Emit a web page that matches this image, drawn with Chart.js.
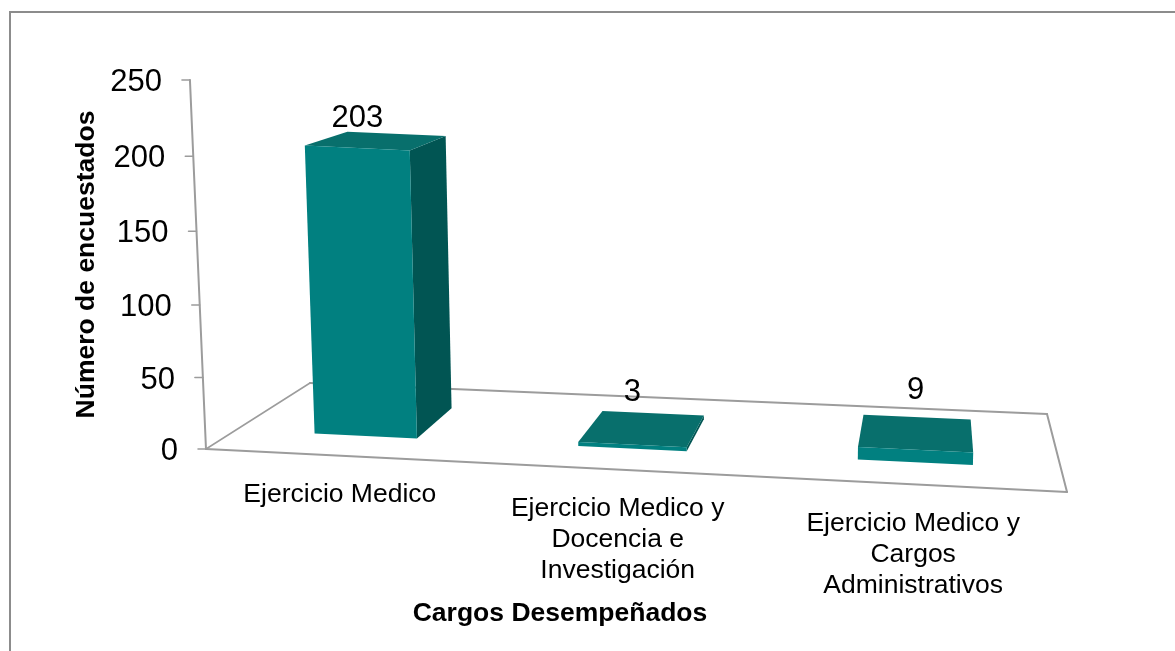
<!DOCTYPE html>
<html>
<head>
<meta charset="utf-8">
<title>Cargos Desempeñados</title>
<style>
  html, body { margin: 0; padding: 0; background: #fff; overflow: hidden; }
  #wrap { position: relative; width: 1175px; height: 651px; }
  #frame { position: absolute; left: 9px; top: 11px; right: 0; bottom: 0; border-left: 2px solid #8c8c8c; border-top: 2px solid #8c8c8c; }
  canvas { position: absolute; left: 0; top: 0; }
</style>
<script src="https://cdn.jsdelivr.net/npm/chart.js@4/dist/chart.umd.min.js"></script>
</head>
<body>
<div id="wrap"><div id="frame"></div><canvas id="chart" width="1175" height="651"></canvas></div>
<script>
const categories = [
  'Ejercicio Medico',
  ['Ejercicio Medico y', 'Docencia e', 'Investigación'],
  ['Ejercicio Medico y', 'Cargos', 'Administrativos'],
];
const seriesValues = [203, 3, 9];
const tickStep = 50;
const tickMax = 250;

const FONT = '"Liberation Sans", Arial, sans-serif';
const FRONT_COLOR = '#018080';
const SIDE_COLOR = '#015553';
const TOP_COLOR = '#086f6c';
const FLOOR_COLOR = '#9c9c9c';

// corners of the floor on screen: front left, front right, back right, back left
const floorQuad = [[206, 449], [1067, 492], [1047, 414], [310, 383]];
const BAR_DEPTH_FRONT = 0.26;
const BAR_DEPTH_BACK = 0.7;
const BAR_SHIFT = 0.002;

// square to quad mapping, u along the categories and d into the picture
const floorMatrix = (() => {
  const [[x0, y0], [x1, y1], [x2, y2], [x3, y3]] = floorQuad;
  const sx = x0 - x1 + x2 - x3;
  const sy = y0 - y1 + y2 - y3;
  const dx1 = x1 - x2;
  const dx2 = x3 - x2;
  const dy1 = y1 - y2;
  const dy2 = y3 - y2;
  const det = dx1 * dy2 - dx2 * dy1;
  const g = (sx * dy2 - dx2 * sy) / det;
  const h = (dx1 * sy - sx * dy1) / det;
  return { a: x1 - x0 + g * x1, b: x3 - x0 + h * x3, c: x0, d: y1 - y0 + g * y1, e: y3 - y0 + h * y3, f: y0, g, h };
})();

const onFloor = (u, d) => {
  const m = floorMatrix;
  const w = m.g * u + m.h * d + 1;
  return [(m.a * u + m.b * d + m.c) / w, (m.d * u + m.e * d + m.f) / w];
};

// verticals lean towards a point far below the picture, and the axis is foreshortened
const lift = (point, frac, d) => {
  const v = frac * tickMax;
  const height = (1.417 * v / (1 - 0.00016 * v)) * (1 - 0.12 * d);
  const lean = (700 - point[0]) / (11800 - point[1]);
  return [point[0] - lean * height, point[1] - height];
};

const polygon = (ctx, points, color) => {
  ctx.beginPath();
  points.forEach((p, i) => (i ? ctx.lineTo(p[0], p[1]) : ctx.moveTo(p[0], p[1])));
  ctx.closePath();
  ctx.fillStyle = color;
  ctx.fill();
};

const line = (ctx, a, b, width) => {
  ctx.beginPath();
  ctx.moveTo(a[0], a[1]);
  ctx.lineTo(b[0], b[1]);
  ctx.lineWidth = width;
  ctx.strokeStyle = FLOOR_COLOR;
  ctx.stroke();
};

const scene3d = {
  id: 'scene3d',
  beforeDraw(chart) {
    const { x: xScale, y: yScale } = chart.scales;
    const span = yScale.bottom - yScale.top;

    // tick labels follow the leaning axis
    yScale.getLabelItems().forEach((item, i) => {
      const frac = yScale.ticks[i].value / tickMax;
      const p = lift(floorQuad[0], frac, 0);
      item.options.translation = [p[0] - 28, p[1] + 2.5];
    });

    // category labels hang under the front edge of the floor
    xScale.getLabelItems().forEach((item, i) => {
      const u = (xScale.getPixelForTick(i) - xScale.left) / (xScale.right - xScale.left);
      const p = onFloor(u, 0);
      item.options.translation = [p[0] + 1, p[1] + 24];
    });

    const ctx = chart.ctx;
    ctx.save();
    ctx.lineCap = 'round';
    const [fl, fr, br, bl] = floorQuad;
    line(ctx, fl, fr, 2);
    line(ctx, fr, br, 2);
    line(ctx, br, bl, 2);
    line(ctx, bl, fl, 1.5);
    line(ctx, fl, lift(fl, 1, 0), 2);
    yScale.ticks.forEach((tick) => {
      const frac = (yScale.bottom - yScale.getPixelForValue(tick.value)) / span;
      const p = lift(fl, frac, 0);
      line(ctx, [p[0] - 8, p[1]], p, 1.5);
    });
    ctx.restore();
  },
  beforeDatasetDraw(chart, args) {
    const { x: xScale, y: yScale } = chart.scales;
    const ctx = chart.ctx;
    const span = yScale.bottom - yScale.top;
    const toU = (px) => (px - xScale.left) / (xScale.right - xScale.left) + BAR_SHIFT;

    ctx.save();
    args.meta.data.forEach((bar, i) => {
      const props = bar.getProps(['x', 'y', 'base', 'width'], true);
      const u0 = toU(props.x - props.width / 2);
      const u1 = toU(props.x + props.width / 2);
      const frac = (props.base - props.y) / span;
      const d0 = BAR_DEPTH_FRONT;
      const d1 = BAR_DEPTH_BACK;

      const fl = onFloor(u0, d0);
      const fr = onFloor(u1, d0);
      const bl = onFloor(u0, d1);
      const br = onFloor(u1, d1);
      const flt = lift(fl, frac, d0);
      const frt = lift(fr, frac, d0);
      const blt = lift(bl, frac, d1);
      const brt = lift(br, frac, d1);

      if (br[0] > fr[0]) polygon(ctx, [fr, br, brt, frt], SIDE_COLOR);
      if (bl[0] < fl[0]) polygon(ctx, [fl, bl, blt, flt], SIDE_COLOR);
      polygon(ctx, [flt, frt, brt, blt], TOP_COLOR);
      polygon(ctx, [fl, fr, frt, flt], FRONT_COLOR);

      // value label above the bar, a bit higher towards the right
      ctx.fillStyle = '#000';
      ctx.font = '31px ' + FONT;
      ctx.textAlign = 'center';
      ctx.textBaseline = 'middle';
      const gap = 12 + 18 * (u0 + u1) / 2;
      ctx.fillText(String(seriesValues[i]), (flt[0] + frt[0]) / 2, (blt[1] + brt[1]) / 2 - gap);
    });
    ctx.restore();
    return false;
  },
};

new Chart(document.getElementById('chart'), {
  type: 'bar',
  data: {
    labels: categories,
    datasets: [{
      label: 'Encuestados',
      data: seriesValues,
      backgroundColor: FRONT_COLOR,
      barPercentage: 0.395,
      categoryPercentage: 1,
    }],
  },
  plugins: [scene3d],
  options: {
    responsive: false,
    animation: false,
    layout: { padding: { top: 80, left: 67, right: 235, bottom: 17 } },
    plugins: { legend: { display: false }, tooltip: { enabled: false } },
    scales: {
      x: {
        grid: { display: false },
        border: { display: false },
        ticks: { color: '#000', font: { family: FONT, size: 26.5, lineHeight: 1.17 }, maxRotation: 0, minRotation: 0, autoSkip: false },
        title: { display: true, text: 'Cargos Desempeñados', color: '#000', font: { family: FONT, size: 26.5, weight: 'bold' } },
        afterFit(scale) { scale.height = 185; },
      },
      y: {
        min: 0,
        max: tickMax,
        grid: { display: false },
        border: { display: false },
        ticks: { stepSize: tickStep, color: '#000', font: { family: FONT, size: 31 } },
        title: { display: true, text: 'Número de encuestados', color: '#000', font: { family: FONT, size: 26.5, weight: 'bold' } },
        afterFit(scale) { scale.width = 113; },
      },
    },
  },
});
</script>
</body>
</html>
